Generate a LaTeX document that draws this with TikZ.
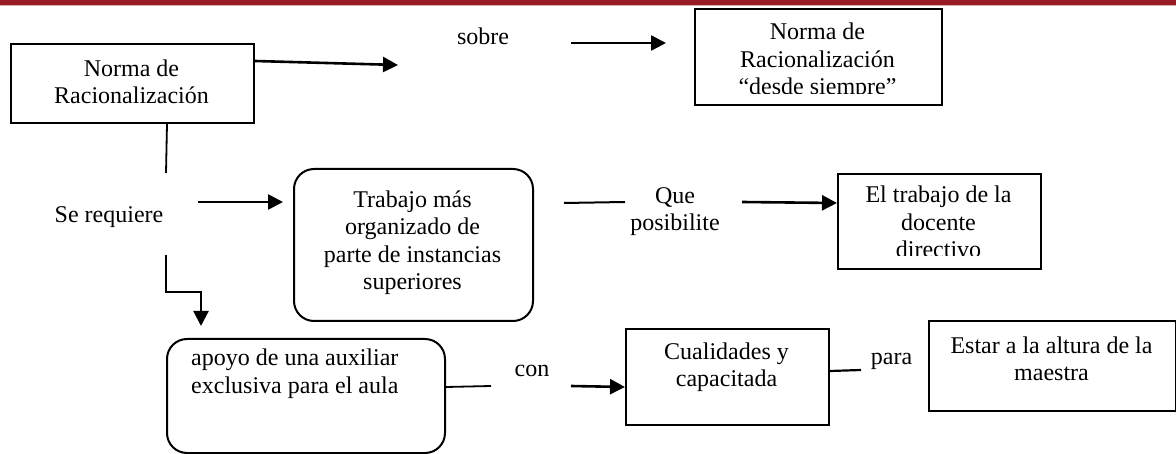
\documentclass[tikz,border=0pt]{standalone}
\usepackage{fontspec}
\setmainfont{Liberation Serif}
\usetikzlibrary{arrows.meta}
\definecolor{bandred}{HTML}{971B24}
\newcommand{\wordfont}{\fontsize{24}{27.5}\selectfont}

\begin{document}
\begin{tikzpicture}[
  x=1pt, y=-1pt,
  box/.style={draw, line width=2pt, anchor=north west, inner sep=0pt},
  softbox/.style={box, rounded corners=20pt},
  word/.style={font=\wordfont, align=center, inner sep=0pt, anchor=base},
  arrow/.style={-{Triangle[length=15pt, width=15pt]}, line width=2.6pt},
  link/.style={line width=1.8pt}
]

  \useasboundingbox (0,0) rectangle (1176,454);
  \fill[bandred] (0,0) rectangle (1176,5);
  \fill[bandred!35] (0,5) rectangle (1176,6.2);

  % Boxes
  \node[box, minimum width=243pt, minimum height=79pt] (norma) at (10,43) {};
  \node[box, minimum width=247pt, minimum height=96pt] (siempre) at (694,8) {};
  \node[softbox, minimum width=239pt, minimum height=152pt] (trabajo) at (293,168) {};
  \node[box, minimum width=203pt, minimum height=95pt] (docente) at (837,173) {};
  \node[softbox, minimum width=278pt, minimum height=114pt] (apoyo) at (166,338) {};
  \node[box, minimum width=203pt, minimum height=96pt] (cualidades) at (625,328) {};
  \node[box, minimum width=246.5pt, minimum height=90pt] (altura) at (928,320) {};

  % Box texts (base = last line)
  \node[word] (norma_txt) at (131.5,104) {Norma de\\Racionalización};
  \begin{scope}
    \clip (694,8) rectangle (941,93.5);
    \node[word] (siempre_txt) at (817.5,95) {Norma de\\Racionalización\\“desde siempre”};
  \end{scope}
  \node[word] (trabajo_txt) at (412.5,290) {Trabajo más\\organizado de\\parte de instancias\\superiores};
  \begin{scope}
    \clip (837,173) rectangle (1040,256);
    \node[word] (docente_txt) at (938.5,258) {El trabajo de la\\docente\\directivo};
  \end{scope}
  \node[word, align=left, anchor=base west] (apoyo_txt) at (191,393) {apoyo de una auxiliar\\exclusiva para el aula};
  \node[word] (cualidades_txt) at (726.5,387) {Cualidades y\\capacitada};
  \node[word] (altura_txt) at (1051.5,381) {Estar a la altura de la\\maestra};

  % Labels
  \node[word] (sobre) at (483,45) {sobre};
  \node[word] (requiere) at (109,223) {Se requiere};
  \node[word] (que) at (675,231) {Que\\posibilite};
  \node[word] (con) at (532,377) {con};
  \node[word] (para) at (891.5,365) {para};

  % Free ends
  \coordinate (sobre_in) at (398,65);
  \coordinate (sobre_out) at (571,43);
  \coordinate (siempre_in) at (666,43);
  \coordinate (norma_down) at (166,173);
  \coordinate (req_out) at (198,202);
  \coordinate (trabajo_in) at (283,202);
  \coordinate (que_in) at (625,202);
  \coordinate (que_out) at (742,202);
  \coordinate (req_down) at (166,255);
  \coordinate (apoyo_in) at (201,326);
  \coordinate (con_in) at (491,386);
  \coordinate (con_out) at (571,386);
  \coordinate (para_in) at (861,370);

  % Connectors
  \draw[arrow] ([yshift=-18pt]norma.north east) -- (sobre_in);
  \draw[arrow] (sobre_out) -- (siempre_in);
  \draw[link] ([xshift=34.5pt]norma.south) -- (norma_down);
  \draw[arrow] (req_out) -- (trabajo_in);
  \draw[link, line width=2pt] ([xshift=30pt,yshift=42pt]trabajo.east) -- (que_in);
  \draw[arrow] (que_out) -- ([yshift=18.5pt]docente.west);
  \draw[arrow, line width=2.2pt] (req_down) -- ++(0,37) -| (apoyo_in);
  \draw[link] ([yshift=9pt]apoyo.east) -- (con_in);
  \draw[arrow] (con_out) -- ([yshift=-10pt]cualidades.west);
  \draw[link, line width=2.2pt] ([yshift=6pt]cualidades.east) -- (para_in);

\end{tikzpicture}
\end{document}
